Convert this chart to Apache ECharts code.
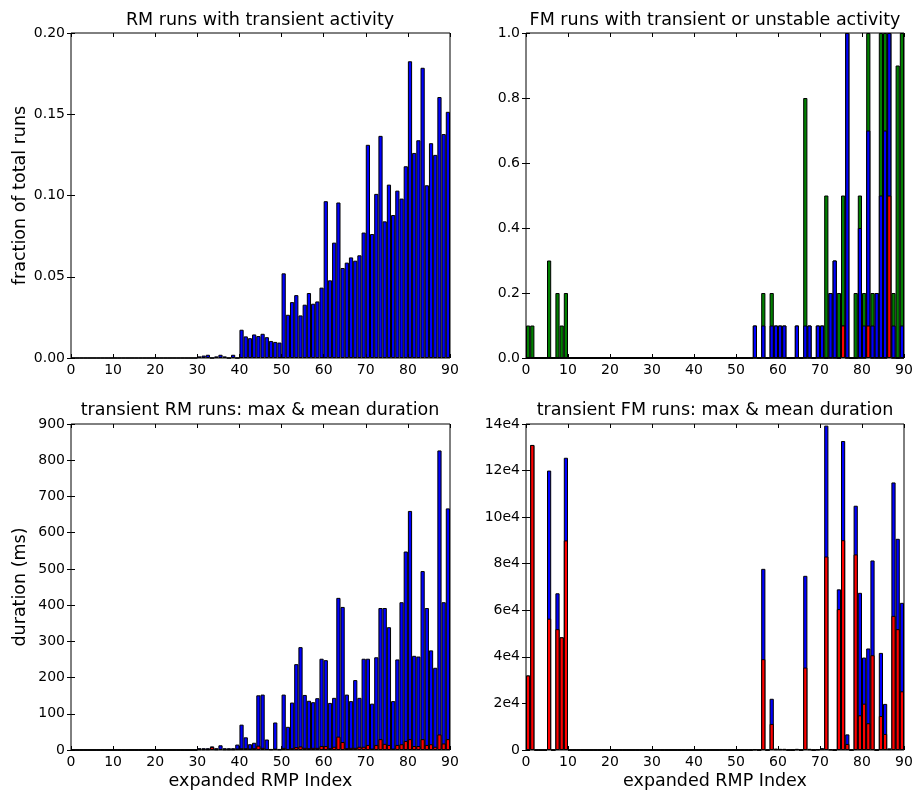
<!DOCTYPE html>
<html>
<head>
<meta charset="utf-8">
<script src="https://cdn.jsdelivr.net/npm/echarts@6/dist/echarts.min.js"></script>
<style>
html, body { margin: 0; padding: 0; background: #fff; }
#chart { width: 917px; height: 797px; }
</style>
</head>
<body>
<div id="chart"></div>
<script>
// expanded RMP index, one bar per index
var rmpIndex = [];
for (var i = 0; i < 90; i++) rmpIndex.push(String(i));

// RM runs with transient activity (fraction of total runs)
var rmTransientFrac = [
    0, 0, 0, 0, 0, 0, 0, 0, 0, 0,
    0, 0, 0, 0, 0, 0, 0, 0, 0, 0,
    0, 0, 0, 0, 0, 0, 0, 0, 0, 0,
    0.001, 0.0015, 0.002, 0, 0.001, 0.002, 0.001, 0, 0.002, 0,
    0.0174, 0.0133, 0.0122, 0.0145, 0.0135, 0.0149, 0.0128, 0.0105, 0.0099, 0.0095,
    0.0521, 0.0266, 0.0344, 0.0387, 0.0262, 0.0328, 0.0400, 0.0334, 0.0348, 0.0433,
    0.0965, 0.0478, 0.0710, 0.0957, 0.0554, 0.0587, 0.0619, 0.0599, 0.0632, 0.0772,
    0.1312, 0.0763, 0.1010, 0.1367, 0.0841, 0.1067, 0.0880, 0.1030, 0.0981, 0.1180,
    0.1826, 0.1262, 0.1340, 0.1786, 0.1063, 0.1322, 0.1250, 0.1606, 0.1378, 0.1515
];

// FM runs: transient or unstable (green), transient (blue), both (red)
var fmAnyFrac = [
    0.1, 0.1, 0, 0, 0, 0.3, 0, 0.2, 0.1, 0.2,
    0, 0, 0, 0, 0, 0, 0, 0, 0, 0,
    0, 0, 0, 0, 0, 0, 0, 0, 0, 0,
    0, 0, 0, 0, 0, 0, 0, 0, 0, 0,
    0, 0, 0, 0, 0, 0, 0, 0, 0, 0,
    0, 0, 0, 0, 0.1, 0, 0.2, 0, 0.2, 0.1,
    0.1, 0.1, 0, 0, 0.1, 0, 0.8, 0.1, 0, 0.1,
    0.1, 0.5, 0.2, 0.3, 0.2, 0.5, 1.0, 0, 0.2, 0.5,
    0.2, 1.0, 0.2, 0.2, 1.0, 1.0, 1.0, 0.2, 0.9, 1.0
];
var fmTransientFrac = [
    0, 0, 0, 0, 0, 0, 0, 0, 0, 0,
    0, 0, 0, 0, 0, 0, 0, 0, 0, 0,
    0, 0, 0, 0, 0, 0, 0, 0, 0, 0,
    0, 0, 0, 0, 0, 0, 0, 0, 0, 0,
    0, 0, 0, 0, 0, 0, 0, 0, 0, 0,
    0, 0, 0, 0, 0.1, 0, 0.1, 0, 0.1, 0.1,
    0.1, 0.1, 0, 0, 0.1, 0, 0.1, 0.1, 0, 0.1,
    0.1, 0, 0.2, 0.3, 0, 0.1, 1.0, 0, 0, 0.4,
    0.1, 0.7, 0.1, 0.2, 0.5, 0.7, 1.0, 0.1, 0, 0.1
];
var fmBothFrac = [
    0, 0, 0, 0, 0, 0, 0, 0, 0, 0,
    0, 0, 0, 0, 0, 0, 0, 0, 0, 0,
    0, 0, 0, 0, 0, 0, 0, 0, 0, 0,
    0, 0, 0, 0, 0, 0, 0, 0, 0, 0,
    0, 0, 0, 0, 0, 0, 0, 0, 0, 0,
    0, 0, 0, 0, 0, 0, 0, 0, 0, 0,
    0, 0, 0, 0, 0, 0, 0, 0, 0, 0,
    0, 0, 0, 0, 0, 0.1, 0, 0, 0, 0,
    0, 0.1, 0, 0, 0, 0, 0.5, 0, 0, 0
];

// transient RM runs duration (ms)
var rmMaxDur = [
    0, 0, 0, 0, 0, 0, 0, 0, 0, 0,
    0, 0, 0, 0, 0, 0, 0, 0, 0, 0,
    0, 0, 0, 0, 0, 0, 0, 0, 0, 0,
    5, 5, 5, 10, 5, 13, 5, 5, 5, 15,
    70, 35, 16, 20, 151, 153, 29, 3, 76, 3,
    153, 64, 131, 237, 284, 152, 136, 132, 143, 252,
    248, 130, 144, 420, 395, 153, 135, 193, 144, 252,
    252, 128, 256, 392, 392, 339, 135, 250, 408, 548,
    660, 260, 258, 494, 392, 275, 227, 827, 408, 667
];
var rmMeanDur = [
    0, 0, 0, 0, 0, 0, 0, 0, 0, 0,
    0, 0, 0, 0, 0, 0, 0, 0, 0, 0,
    0, 0, 0, 0, 0, 0, 0, 0, 0, 0,
    2, 2, 2, 8, 2, 3, 2, 2, 2, 4,
    5, 5, 4, 5, 12, 6, 3, 2, 4, 2,
    6, 3, 5, 8, 10, 6, 5, 6, 6, 11,
    11, 5, 9, 37, 22, 5, 6, 6, 9, 9,
    14, 4, 14, 30, 17, 14, 4, 14, 16, 25,
    30, 11, 11, 30, 14, 16, 9, 43, 18, 30
];

// transient FM runs duration (ms)
var fmMaxDur = [
    32000, 131000, 0, 0, 0, 120000, 0, 67300, 48400, 125500,
    0, 0, 0, 0, 0, 0, 0, 0, 0, 0,
    0, 0, 0, 0, 0, 0, 0, 0, 0, 0,
    0, 0, 0, 0, 0, 0, 0, 0, 0, 0,
    0, 0, 0, 0, 0, 0, 0, 0, 0, 0,
    0, 0, 0, 0, 400, 0, 77800, 0, 22000, 600,
    500, 500, 0, 0, 500, 0, 74800, 500, 0, 400,
    800, 139300, 400, 0, 69000, 132700, 6700, 0, 104900, 67500,
    39700, 43600, 81400, 0, 41700, 19800, 700, 114900, 90700, 63200
];
var fmMeanDur = [
    32000, 131000, 0, 0, 0, 56400, 0, 51900, 48400, 90000,
    0, 0, 0, 0, 0, 0, 0, 0, 0, 0,
    0, 0, 0, 0, 0, 0, 0, 0, 0, 0,
    0, 0, 0, 0, 0, 0, 0, 0, 0, 0,
    0, 0, 0, 0, 0, 0, 0, 0, 0, 0,
    0, 0, 0, 0, 200, 0, 39000, 0, 11200, 300,
    300, 300, 0, 0, 300, 0, 35400, 300, 0, 200,
    400, 83100, 200, 0, 60500, 90100, 2600, 0, 84000, 14900,
    19900, 11500, 40700, 0, 14600, 6900, 400, 57600, 51900, 25200
];

var FONT = 'DejaVu Sans';
var BLUE = '#0000ff', GREEN = '#007f00', RED = '#ff0000';

var grids = [
    { left: 71, top: 33, width: 379, height: 325 },
    { left: 526, top: 33, width: 378, height: 325 },
    { left: 71, top: 424, width: 379, height: 326 },
    { left: 526, top: 424, width: 378, height: 326 }
];
var yRanges = [
    { max: 0.2, interval: 0.05, fmt: function (v) { return v.toFixed(2); }, name: 'fraction of total runs' },
    { max: 1.0, interval: 0.2, fmt: function (v) { return v.toFixed(1); }, name: '' },
    { max: 900, interval: 100, fmt: function (v) { return String(v); }, name: 'duration (ms)' },
    { max: 140000, interval: 20000, fmt: function (v) { return v === 0 ? '0' : (v / 1e4) + 'e4'; }, name: '' }
];

var xAxes = [], yAxes = [];
grids.forEach(function (g, k) {
    var tick = { show: true, inside: true, length: 4, lineStyle: { color: '#000', width: 1 } };
    // hidden category axis that holds the bars
    xAxes.push({ type: 'category', gridIndex: k, data: rmpIndex, show: false, position: 'bottom' });
    xAxes.push({
        type: 'value', gridIndex: k, position: 'bottom', min: 0, max: 90, interval: 10,
        axisLine: { show: false }, axisTick: tick, splitLine: { show: false },
        axisLabel: { fontFamily: FONT, fontSize: 14, color: '#000', margin: 5 },
        name: k >= 2 ? 'expanded RMP Index' : '', nameLocation: 'middle', nameGap: 22,
        nameTextStyle: { fontFamily: FONT, fontSize: 17.5, color: '#000' }
    });
    xAxes.push({
        type: 'value', gridIndex: k, position: 'top', min: 0, max: 90, interval: 10,
        axisLine: { show: false }, axisTick: tick, splitLine: { show: false },
        axisLabel: { show: false }
    });
    var r = yRanges[k];
    yAxes.push({
        type: 'value', gridIndex: k, position: 'left', min: 0, max: r.max, interval: r.interval,
        axisLine: { show: false }, axisTick: tick, splitLine: { show: false },
        axisLabel: { fontFamily: FONT, fontSize: 14, color: '#000', margin: 6, formatter: r.fmt },
        name: r.name, nameLocation: 'middle', nameGap: 42,
        nameTextStyle: { fontFamily: FONT, fontSize: 17.5, color: '#000' }
    });
    yAxes.push({
        type: 'value', gridIndex: k, position: 'right', min: 0, max: r.max, interval: r.interval,
        axisLine: { show: false }, axisTick: tick, splitLine: { show: false },
        axisLabel: { show: false }
    });
});

function bars(k, data, color) {
    return {
        type: 'bar', xAxisIndex: k * 3, yAxisIndex: k * 2, data: data,
        barWidth: '100%', barGap: '-100%', barCategoryGap: '0%',
        itemStyle: { color: color, borderColor: '#000', borderWidth: 1 },
        emphasis: { disabled: true }
    };
}

function title(text, x, y) {
    return {
        text: text, left: x, top: y, textAlign: 'center', padding: 0,
        textStyle: { fontFamily: FONT, fontSize: 17.5, fontWeight: 'normal', color: '#000' }
    };
}

var chart = echarts.init(document.getElementById('chart'));
chart.setOption({
    animation: false,
    backgroundColor: '#fff',
    title: [
        title('RM runs with transient activity', 260, 11),
        title('FM runs with transient or unstable activity', 715, 11),
        title('transient RM runs: max & mean duration', 260, 401),
        title('transient FM runs: max & mean duration', 715, 401)
    ],
    grid: grids.map(function (g) {
        return {
            left: g.left, top: g.top, width: g.width, height: g.height,
            show: true, borderColor: '#000', borderWidth: 1, backgroundColor: 'transparent'
        };
    }),
    xAxis: xAxes,
    yAxis: yAxes,
    series: [
        bars(0, rmTransientFrac, BLUE),
        bars(1, fmAnyFrac, GREEN),
        bars(1, fmTransientFrac, BLUE),
        bars(1, fmBothFrac, RED),
        bars(2, rmMaxDur, BLUE),
        bars(2, rmMeanDur, RED),
        bars(3, fmMaxDur, BLUE),
        bars(3, fmMeanDur, RED)
    ]
});
</script>
</body>
</html>
